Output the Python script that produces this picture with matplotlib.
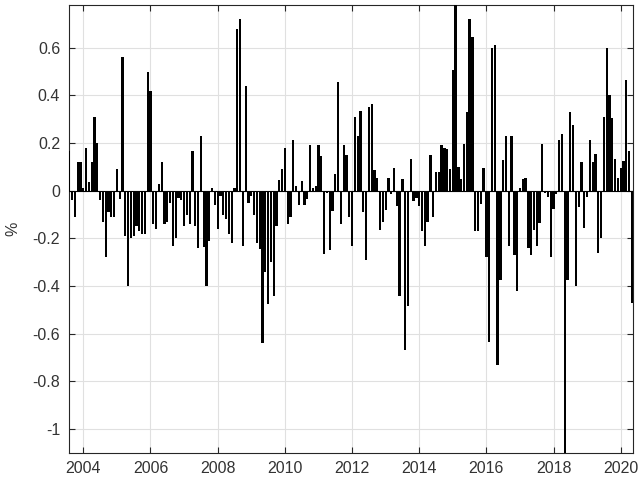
import numpy as np
import matplotlib
matplotlib.use("Agg")
import matplotlib.pyplot as plt

# Monthly changes (%), starting August 2003
start_year, start_month = 2003, 8
values = [
    # 2003-08 .. 2006-01
    0.165, -0.04, -0.11, 0.12, 0.12, 0.01, 0.18, 0.035, 0.12, 0.31,
    0.20, -0.04, -0.13, -0.28, -0.09, -0.11, -0.11, 0.09, -0.035, 0.56,
    -0.19, -0.40, -0.20, -0.19, -0.15, -0.17, -0.18, -0.18, 0.50, 0.42,
    # 2006-02 .. 2008-01
    -0.14, -0.16, 0.03, 0.12, -0.14, -0.13, -0.05, -0.23, -0.20, -0.03,
    -0.04, -0.15, -0.10, -0.14, 0.165, -0.15, -0.24, 0.23, -0.235, -0.40,
    -0.21, 0.01, -0.06, -0.16,
    # 2008-02 .. 2010-01
    -0.02, -0.10, -0.12, -0.18, -0.22, 0.01, 0.68, 0.72, -0.23, 0.44,
    -0.05, -0.02, -0.10, -0.22, -0.245, -0.64, -0.34, -0.475, -0.30, -0.44,
    -0.15, 0.045, 0.09, 0.18,
    # 2010-02 .. 2012-01
    -0.14, -0.11, 0.215, 0.02, -0.06, 0.04, -0.06, -0.035, 0.19, 0.01,
    0.02, 0.19, 0.145, -0.265, -0.01, -0.25, -0.085, 0.07, 0.455, -0.14,
    0.19, 0.15, -0.11, -0.23,
    # 2012-02 .. 2014-01
    0.31, 0.23, 0.335, -0.09, -0.29, 0.35, 0.365, 0.085, 0.055, -0.165,
    -0.13, -0.08, 0.055, -0.015, 0.095, -0.065, -0.44, 0.05, -0.67, -0.485,
    0.135, -0.045, -0.03, -0.065,
    # 2014-02 .. 2016-02
    -0.17, -0.23, -0.13, 0.15, -0.11, 0.08, 0.08, 0.19, 0.18, 0.175,
    0.09, 0.505, 0.78, 0.10, 0.05, 0.195, 0.33, 0.72, 0.645, -0.167,
    -0.17, -0.055, 0.095, -0.28, -0.635,
    # 2016-03 .. 2018-01
    0.60, 0.61, -0.73, -0.375, 0.13, 0.23, -0.23, 0.23, -0.27, -0.42,
    0.01, 0.05, 0.055, -0.24, -0.27, -0.165, -0.23, -0.135, 0.195, -0.01,
    -0.025, -0.28, -0.075,
    # 2018-02 .. 2020-05
    -0.015, 0.215, 0.24, -1.15, -0.375, 0.33, 0.275, -0.40, -0.07, 0.12,
    -0.155, -0.025, 0.215, 0.12, 0.155, -0.26, -0.20, 0.31, 0.60, 0.40,
    0.305, 0.135, 0.055, 0.095, 0.125, 0.465, 0.165, -0.47,
]

year_ticks = [2004, 2006, 2008, 2010, 2012, 2014, 2016, 2018, 2020]
y_ticks = [-1, -0.8, -0.6, -0.4, -0.2, 0, 0.2, 0.4, 0.6]
y_tick_labels = ["-1", "-0.8", "-0.6", "-0.4", "-0.2", "0", "0.2", "0.4", "0.6"]

vals = np.array(values)
t = start_year + (start_month - 1) / 12 + np.arange(len(vals)) / 12

plt.rcParams["font.family"] = ["Liberation Sans", "DejaVu Sans"]
axis_color = "#262626"
label_color = "#333333"

fig = plt.figure(figsize=(6.38, 4.83), dpi=100)
ax = fig.add_axes([0.1074, 0.0627, 0.884, 0.927])

ax.bar(t, vals, width=0.8 / 12, color="black", edgecolor="none", zorder=3)
ax.axhline(0, color="black", lw=0.8, zorder=4)

ax.set_xlim(2003.56, 2020.35)
ax.set_ylim(-1.1, 0.78)
ax.set_xticks(year_ticks)
ax.set_xticklabels([str(y) for y in year_ticks])
ax.set_yticks(y_ticks)
ax.set_yticklabels(y_tick_labels)
ax.set_ylabel("%", color=label_color, fontsize=11.5, labelpad=9)

ax.grid(True, color="#e0e0e0", lw=0.8, zorder=0)
ax.tick_params(axis="both", direction="in", length=4, width=0.8,
               colors=axis_color, labelcolor=label_color, labelsize=11.5,
               top=True, right=True, labeltop=False, labelright=False, pad=6)
for sp in ax.spines.values():
    sp.set_color(axis_color)
    sp.set_linewidth(0.8)

fig.savefig("out.png", dpi=100, facecolor="white")
